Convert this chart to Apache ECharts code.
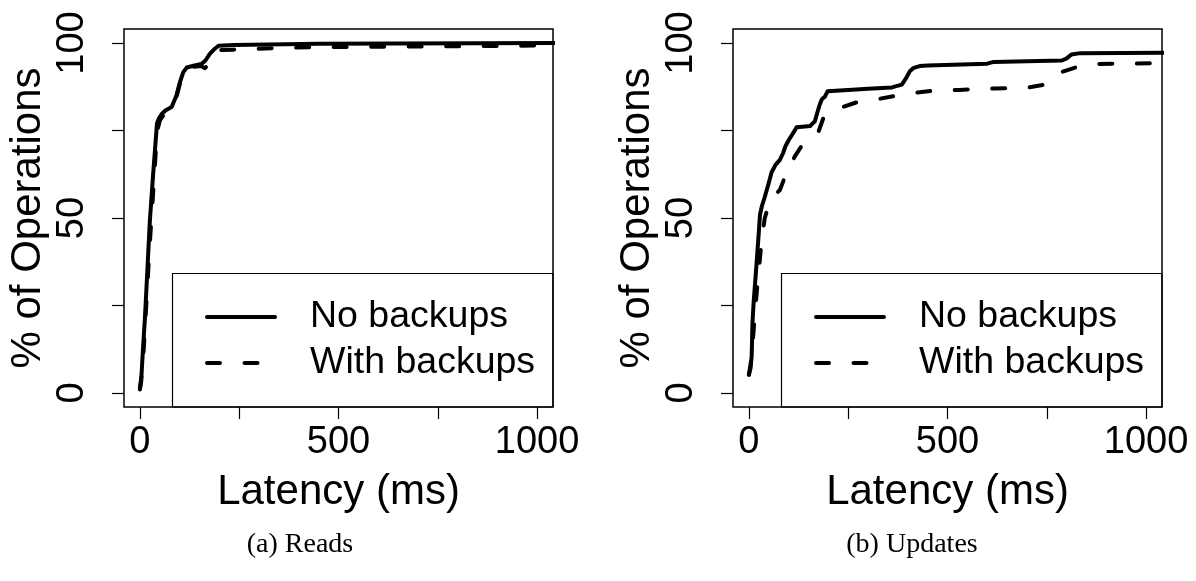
<!DOCTYPE html>
<html>
<head>
<meta charset="utf-8">
<script src="https://cdn.jsdelivr.net/npm/echarts@6/dist/echarts.min.js"></script>
<style>
html,body{margin:0;padding:0;background:#fff;}
#c{width:1196px;height:581px;}
</style>
</head>
<body>
<div id="c"></div>
<script>
// ---- data (latency in ms, % of operations) ----
var seriesNames = ['No backups', 'With backups'];
var panelCaptions = ['(a) Reads', '(b) Updates'];
var xTickValues = [0, 250, 500, 750, 1000];
var xLabelValues = [0, 500, 1000];
var yTickValues = [0, 25, 50, 75, 100];
var yLabelValues = [0, 50, 100];

var readsNoX = [0, 4, 8, 13, 21, 25, 33, 38, 43, 48, 55, 65, 80, 92, 100, 109, 118, 135, 155, 165, 176, 188, 198, 235, 450, 1050];
var readsNoY = [1.4, 5, 13, 22, 40, 49, 62, 69.5, 77, 78.5, 79.7, 80.8, 81.7, 85, 88.5, 91.6, 93, 93.5, 94, 95, 96.9, 98.3, 99.2, 99.4, 99.8, 100];

var readsWithX = [0, 3, 6, 10, 15, 23, 28, 35, 40, 45, 50, 57, 67, 80, 93, 101, 110, 118, 135, 155, 163, 170, 180, 192, 205, 235, 330, 430, 700, 1050];
var readsWithY = [1, 3, 7, 13, 23, 39, 48, 60, 69, 75.5, 77.8, 79, 80.3, 81.5, 85, 88.5, 91.5, 92.8, 93.2, 93.4, 92.8, 93.5, 96, 97.8, 98, 98.1, 98.5, 98.8, 99.0, 99.3];

var updNoX = [0, 4, 7, 9, 12, 15, 20, 25, 28, 33, 40, 50, 57, 67, 78, 86, 92, 100, 110, 120, 135, 154, 166, 172, 178, 184, 191, 198, 250, 300, 360, 385, 395, 405, 415, 430, 450, 600, 616, 700, 788, 800, 812, 834, 1050];
var updNoY = [5.2, 7, 10.5, 20, 26, 30.5, 38, 46, 51, 53.5, 56, 60, 63, 65.2, 66.6, 68.5, 70.5, 72.2, 74, 75.9, 76.1, 76.3, 77.6, 80, 82.3, 84, 84.6, 86.2, 86.6, 86.9, 87.3, 88.1, 89.8, 91.9, 92.9, 93.4, 93.6, 94.1, 94.6, 94.8, 95, 95.6, 96.7, 97.1, 97.2];

var updWithX = [0, 4, 8, 12, 16, 20, 25, 30, 35, 40, 48, 60, 78, 91, 100, 116, 137, 160, 175, 181, 187, 200, 234, 270, 326, 364, 420, 460, 530, 620, 700, 740, 765, 790, 830, 880, 1050];
var updWithY = [5.2, 8, 12, 18, 24, 29, 35, 41, 46, 50, 53, 56, 58, 61.8, 64, 67.7, 71.3, 73.5, 74.6, 76.5, 78.4, 80, 81.6, 83, 84, 84.8, 85.8, 86.3, 86.6, 87, 87.2, 88, 89.5, 91.8, 93.3, 94, 94.3];

function pairs(xs, ys) { return xs.map(function (x, i) { return [x, ys[i]]; }); }

var FONT = 'Liberation Sans';
var FS = 38;
var DASH = [13, 24.5];

function plain(v) { return String(v); }

function xAxisDef(gi) {
  return {
    type: 'value', gridIndex: gi, min: -40, max: 1040,
    name: 'Latency (ms)', nameLocation: 'middle', nameGap: 64,
    nameTextStyle: { fontFamily: FONT, fontSize: 42, color: '#000' },
    axisLine: { show: false, onZero: false },
    splitLine: { show: false },
    axisTick: { show: true, inside: false, customValues: xTickValues, length: 12, lineStyle: { color: '#000', width: 1.2 } },
    axisLabel: { customValues: xLabelValues, margin: 17, formatter: plain, fontFamily: FONT, fontSize: FS, color: '#000' }
  };
}
function yAxisDef(gi) {
  return {
    type: 'value', gridIndex: gi, min: -4, max: 104,
    name: '% of Operations', nameLocation: 'middle', nameGap: 75, nameRotate: 90,
    nameTextStyle: { fontFamily: FONT, fontSize: 42, color: '#000' },
    axisLine: { show: false, onZero: false },
    splitLine: { show: false },
    axisTick: { show: true, inside: false, customValues: yTickValues, length: 12, lineStyle: { color: '#000', width: 1.2 } },
    axisLabel: { customValues: yLabelValues, rotate: 90, margin: 32, formatter: plain, fontFamily: FONT, fontSize: FS, color: '#000' }
  };
}
function lineSeries(name, gi, data, dashed) {
  return {
    type: 'line', name: name, xAxisIndex: gi, yAxisIndex: gi,
    data: data, symbol: 'none', showSymbol: false, smooth: false, clip: true,
    animation: false,
    lineStyle: { color: '#000', width: 4, type: dashed ? DASH : 'solid', cap: 'round', join: 'round' },
    itemStyle: { color: '#000' }
  };
}
function legendDef(left) {
  return {
    data: [
      { name: seriesNames[0], lineStyle: { color: '#000', width: 4, type: 'solid', cap: 'round' } },
      { name: seriesNames[1], lineStyle: { color: '#000', width: 4, type: DASH, cap: 'round' } }
    ],
    orient: 'vertical', left: left, top: 298,
    padding: 0, itemGap: 8, itemWidth: 68, itemHeight: 14,
    selectedMode: false,
    itemStyle: { opacity: 0 },
    lineStyle: { width: 4, cap: 'round' },
    textStyle: { fontFamily: FONT, fontSize: 37.5, color: '#000', lineHeight: 37, padding: [0, 0, 0, 30] }
  };
}

var chart = echarts.init(document.getElementById('c'), null, { renderer: 'canvas' });
chart.setOption({
  backgroundColor: '#fff',
  animation: false,
  grid: [
    { left: 124, top: 29, width: 429, height: 378, show: true, borderColor: '#000', borderWidth: 1.5, backgroundColor: 'transparent', containLabel: false },
    { left: 733, top: 29, width: 429, height: 378, show: true, borderColor: '#000', borderWidth: 1.5, backgroundColor: 'transparent', containLabel: false }
  ],
  xAxis: [xAxisDef(0), xAxisDef(1)],
  yAxis: [yAxisDef(0), yAxisDef(1)],
  legend: [legendDef(205), legendDef(814)],
  series: [
    lineSeries(seriesNames[0], 0, pairs(readsNoX, readsNoY), false),
    lineSeries(seriesNames[1], 0, pairs(readsWithX, readsWithY), true),
    lineSeries(seriesNames[0], 1, pairs(updNoX, updNoY), false),
    lineSeries(seriesNames[1], 1, pairs(updWithX, updWithY), true)
  ],
  graphic: [
    { type: 'rect', shape: { x: 172.5, y: 273.5, width: 380.5, height: 133.5 }, style: { fill: null, stroke: '#000', lineWidth: 1.2 }, z: 5 },
    { type: 'rect', shape: { x: 781.5, y: 273.5, width: 380.5, height: 133.5 }, style: { fill: null, stroke: '#000', lineWidth: 1.2 }, z: 5 },
    { type: 'text', x: 300, y: 545, style: { text: panelCaptions[0], fontFamily: 'Liberation Serif', fontSize: 28, fill: '#000', textAlign: 'center', textVerticalAlign: 'middle' } },
    { type: 'text', x: 912, y: 545, style: { text: panelCaptions[1], fontFamily: 'Liberation Serif', fontSize: 28, fill: '#000', textAlign: 'center', textVerticalAlign: 'middle' } }
  ]
});
</script>
</body>
</html>
